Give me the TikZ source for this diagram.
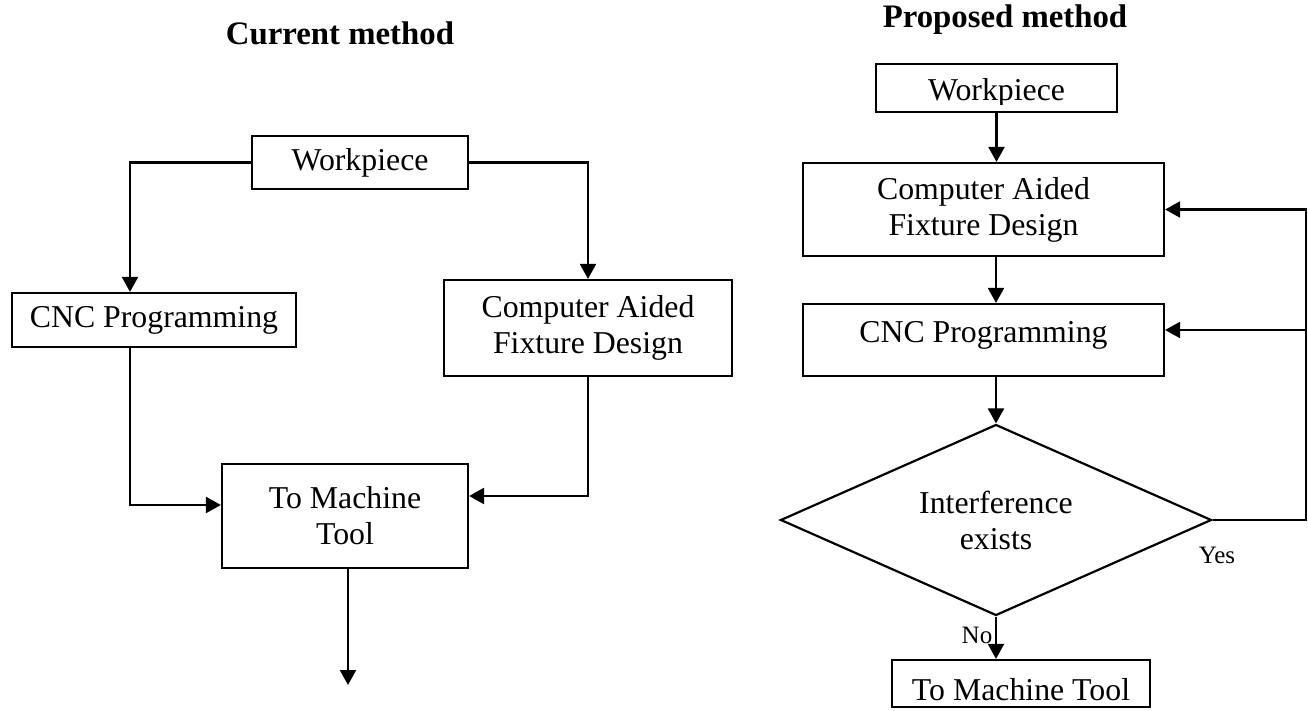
\documentclass[tikz,border=0pt]{standalone}
\usepackage{fontspec}
\setmainfont{Liberation Serif}
\usetikzlibrary{arrows.meta,shapes.geometric}
\begin{document}
\begin{tikzpicture}[x=0.5pt,y=-0.5pt,
  line width=1.1pt,
  box/.style={draw, rectangle, inner sep=0pt, align=center,
    font=\fontsize{15.9}{18}\selectfont},
  arr/.style={-{Triangle[width=8pt,length=7.5pt]}},
  title/.style={font=\fontsize{16.4}{19}\selectfont\bfseries},
  tag/.style={font=\fontsize{12.5}{15}\selectfont}]

\useasboundingbox (0,0) rectangle (1308,711);

% headings
\node[title] (tcur) at (340,33) {Current method};
\node[title] (tprop) at (1005,20) {Proposed method};

% ---- current method ----
\node[box, minimum width=108pt, minimum height=26.5pt] (lwp) at (360,162.5) {Workpiece};
\node[box, minimum width=142pt, minimum height=27pt] (lcnc) at (154,320) {CNC Programming};
\node[box, minimum width=144pt, minimum height=48pt] (lcafd) at (588,328) {Computer Aided\\Fixture Design};
\node[box, minimum width=123pt, minimum height=52pt] (ltool) at (345,516) {To Machine\\Tool};
\coordinate (lend) at (348,685);

\draw[arr] (lwp.west) -| ([xshift=-12pt]lcnc.north);
\draw[arr] (lwp.east) -| (lcafd.north);
\draw[arr] ([xshift=-12pt]lcnc.south) |- ([yshift=5.5pt]ltool.west);
\draw[arr] (lcafd.south) |- ([yshift=10pt]ltool.east);
\draw[arr] ([xshift=1.5pt]ltool.south) -- (lend);

% ---- proposed method ----
\node[box, minimum width=120.5pt, minimum height=24pt] (rwp) at (996.5,88) {};
\begin{scope}
  \clip (rwp.north west) rectangle ([yshift=4.5pt]rwp.south east);
  \node[box, draw=none, anchor=base] (rwptext) at (996.5,101) {Workpiece};
\end{scope}
\node[box, minimum width=180.5pt, minimum height=46.5pt] (rcafd) at (983.5,209.5) {Computer Aided\\Fixture Design};
\node[box, minimum width=180.5pt, minimum height=36pt, text height=10.5pt, text depth=7.5pt] (rcnc) at (983.5,340) {CNC Programming};
\node[draw, diamond, inner sep=0pt, aspect=2.26, minimum width=215.5pt, minimum height=95.5pt,
  align=center, font=\fontsize{15.9}{18}\selectfont] (rdia) at (996,520) {Interference\\exists};
\node[box, minimum width=129pt, minimum height=23.5pt, text height=16.5pt, text depth=0pt] (rtool) at (1021,683.5) {To Machine Tool};

\node[tag] (lyes) at (1217,555) {Yes};
\node[tag] (lno) at (977,635) {No};

\coordinate (rloop) at (1306,520);

\draw[arr] (rwp.south) -- (rcafd.north -| rwp.south);
\draw[arr] (rcafd.south -| rdia.north) -- (rcnc.north -| rdia.north);
\draw[arr] (rcnc.south -| rdia.north) -- (rdia.north);
\draw[arr] (rdia.south) -- (rtool.north -| rdia.south);
\draw[arr] (rdia.east) -- (rloop) |- (rcafd.east);
\draw[arr] ([yshift=5pt]rcnc.east -| rloop) -- ([yshift=5pt]rcnc.east);

\end{tikzpicture}
\end{document}
